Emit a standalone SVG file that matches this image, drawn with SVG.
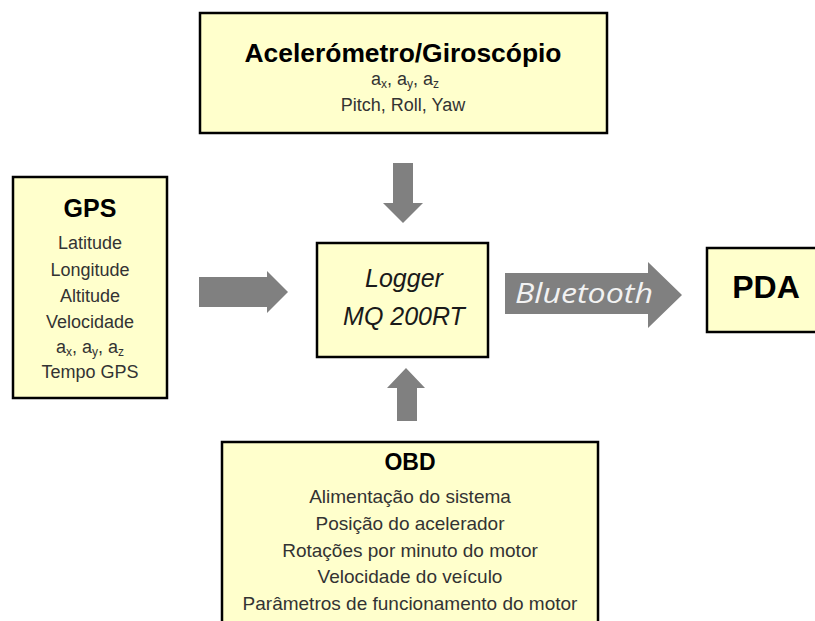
<svg xmlns="http://www.w3.org/2000/svg" width="815" height="621" viewBox="0 0 815 621">
<style>
.box{fill:#ffffcc;stroke:#000;stroke-width:2.5}
.arrow{fill:#808080}
.t{font-family:"Liberation Sans",Arial,sans-serif;text-anchor:middle}
.title{font-weight:bold;fill:#000}
.item{font-size:18px;fill:#333}
.obd{font-size:19px;fill:#333}
.sub{font-size:12px}
</style>
<rect width="815" height="621" fill="#fff"/>
<g id="connectors">
<polygon class="arrow" points="393,163 413,163 413,203 423,203 403,223 383,203 393,203"/>
<polygon class="arrow" points="199,277 267,277 267,271 288,292 267,313 267,307 199,307"/>
<polygon class="arrow" points="397,421 417,421 417,388 425,388 406,368 387,388 397,388"/>
<polygon class="arrow" points="505,273 648,273 648,262 682,295 648,328 648,314 505,314"/>
<text x="515" y="303" font-family="'Open Sans','DejaVu Sans',sans-serif" font-style="italic" font-size="28" fill="#f2f2f2" textLength="138" lengthAdjust="spacingAndGlyphs">Bluetooth</text>
</g>
<g id="acelerometro">
<rect class="box" x="200" y="13" width="407" height="120"/>
<text class="t title" x="403" y="62" font-size="25" textLength="317" lengthAdjust="spacingAndGlyphs">Acelerómetro/Giroscópio</text>
<text class="t item" x="405" y="85">a<tspan class="sub" baseline-shift="-25%">x</tspan>, a<tspan class="sub" baseline-shift="-25%">y</tspan>, a<tspan class="sub" baseline-shift="-25%">z</tspan></text>
<text class="t item" x="403" y="111">Pitch, Roll, Yaw</text>
</g>
<g id="gps">
<rect class="box" x="13" y="177" width="154" height="221"/>
<text class="t title" x="90" y="217" font-size="25">GPS</text>
<text class="t item" x="90" y="249">Latitude</text>
<text class="t item" x="90" y="276">Longitude</text>
<text class="t item" x="90" y="302">Altitude</text>
<text class="t item" x="90" y="328">Velocidade</text>
<text class="t item" x="90" y="353">a<tspan class="sub" baseline-shift="-25%">x</tspan>, a<tspan class="sub" baseline-shift="-25%">y</tspan>, a<tspan class="sub" baseline-shift="-25%">z</tspan></text>
<text class="t item" x="90" y="378">Tempo GPS</text>
</g>
<g id="logger">
<rect class="box" x="317" y="243" width="171" height="114"/>
<text class="t" x="404" y="287" font-size="25" font-style="italic" fill="#1a1a1a">Logger</text>
<text class="t" x="404" y="325" font-size="25" font-style="italic" fill="#1a1a1a">MQ 200RT</text>
</g>
<g id="pda">
<rect class="box" x="707" y="248" width="120" height="84"/>
<text class="t title" x="766" y="298" font-size="32">PDA</text>
</g>
<g id="obd">
<rect class="box" x="222" y="442" width="376" height="200"/>
<text class="t title" x="410" y="470" font-size="23">OBD</text>
<text class="t obd" x="410" y="503">Alimentação do sistema</text>
<text class="t obd" x="410" y="530">Posição do acelerador</text>
<text class="t obd" x="410" y="557">Rotações por minuto do motor</text>
<text class="t obd" x="410" y="583">Velocidade do veículo</text>
<text class="t obd" x="410" y="610">Parâmetros de funcionamento do motor</text>
</g>
</svg>
